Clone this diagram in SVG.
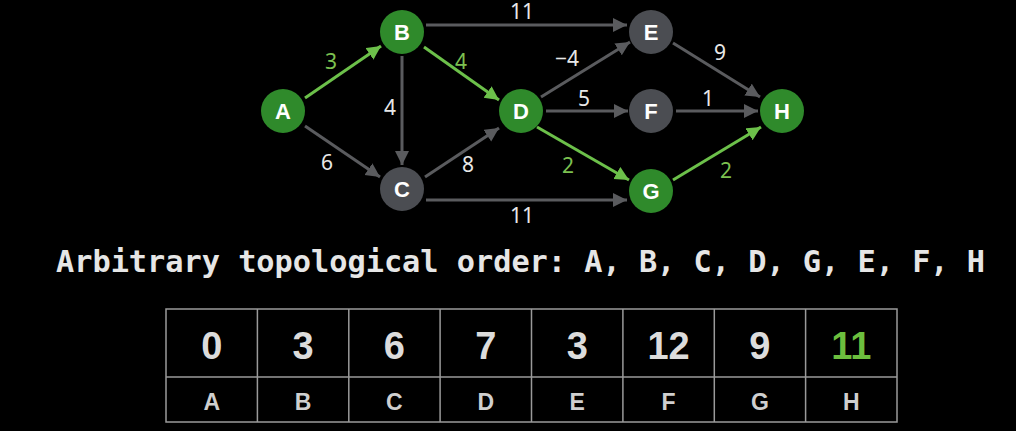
<svg xmlns="http://www.w3.org/2000/svg" width="1016" height="431" viewBox="0 0 1016 431">
<style>
.e{stroke:#5a5b5e;stroke-width:3;fill:none}
.g{stroke:#6cc04a;stroke-width:3;fill:none}
.ng{fill:#2f8a2b}
.nn{fill:#4b4d52}
.nl{font-family:"Liberation Sans",Arial,sans-serif;font-weight:bold;font-size:22px;fill:#fff;text-anchor:middle}
.lw{font-family:"Noto Sans","DejaVu Sans",sans-serif;font-size:21px;fill:#e8e8e8;text-anchor:middle}
.lg{font-family:"Noto Sans","DejaVu Sans",sans-serif;font-size:21px;fill:#7cc050;text-anchor:middle}
.cell{fill:#000;stroke:#9a9a9a;stroke-width:1.5}
.v{font-family:"Liberation Sans",Arial,sans-serif;font-weight:bold;font-size:38px;fill:#dcdcdc;text-anchor:middle}
.k{font-family:"Liberation Sans",Arial,sans-serif;font-weight:bold;font-size:23px;fill:#cfcfcf;text-anchor:middle}
</style>
<defs>
<marker id="ag" markerUnits="userSpaceOnUse" markerWidth="16" markerHeight="16" refX="14" refY="7" orient="auto"><path d="M0,0 L14,7 L0,14 Z" fill="#6cc04a"/></marker>
<marker id="an" markerUnits="userSpaceOnUse" markerWidth="16" markerHeight="16" refX="14" refY="7" orient="auto"><path d="M0,0 L14,7 L0,14 Z" fill="#5a5b5e"/></marker>
</defs>
<rect width="1016" height="431" fill="#000"/>
<g id="connectors">
<line class="g" x1="305" y1="98" x2="381" y2="46" marker-end="url(#ag)"/>
<line class="g" x1="424" y1="47" x2="499" y2="100" marker-end="url(#ag)"/>
<line class="e" x1="402" y1="56" x2="402" y2="165" marker-end="url(#an)"/>
<line class="e" x1="305" y1="126" x2="380" y2="177" marker-end="url(#an)"/>
<line class="e" x1="425" y1="177" x2="499" y2="128" marker-end="url(#an)"/>
<line class="e" x1="426" y1="25" x2="627" y2="25" marker-end="url(#an)"/>
<line class="e" x1="426" y1="200" x2="627" y2="200" marker-end="url(#an)"/>
<line class="e" x1="541" y1="97" x2="630" y2="42" marker-end="url(#an)"/>
<line class="e" x1="546" y1="111" x2="628" y2="111" marker-end="url(#an)"/>
<line class="g" x1="537" y1="127" x2="629" y2="180" marker-end="url(#ag)"/>
<line class="e" x1="673" y1="43" x2="760" y2="97" marker-end="url(#an)"/>
<line class="e" x1="676" y1="111" x2="758" y2="111" marker-end="url(#an)"/>
<line class="g" x1="673" y1="180" x2="761" y2="127" marker-end="url(#ag)"/>
</g>
<g id="edge-labels">
<text class="lg" x="331" y="69">3</text>
<text class="lg" x="461" y="69">4</text>
<text class="lw" x="390" y="115">4</text>
<text class="lw" x="327" y="170">6</text>
<text class="lw" x="468" y="172">8</text>
<text class="lw" x="522" y="19">11</text>
<text class="lw" x="522" y="223">11</text>
<text class="lw" x="567" y="66">−4</text>
<text class="lw" x="584" y="106">5</text>
<text class="lw" x="708" y="106">1</text>
<text class="lw" x="720" y="60">9</text>
<text class="lg" x="568" y="173">2</text>
<text class="lg" x="726" y="178">2</text>
</g>
<g id="node-A"><circle class="ng" cx="283" cy="111" r="22"/><text class="nl" x="283" y="119">A</text></g>
<g id="node-B"><circle class="ng" cx="402" cy="32" r="22"/><text class="nl" x="402" y="40">B</text></g>
<g id="node-C"><circle class="nn" cx="402" cy="189" r="22"/><text class="nl" x="402" y="197">C</text></g>
<g id="node-D"><circle class="ng" cx="521" cy="111" r="22"/><text class="nl" x="521" y="119">D</text></g>
<g id="node-E"><circle class="nn" cx="651" cy="32" r="22"/><text class="nl" x="651" y="40">E</text></g>
<g id="node-F"><circle class="nn" cx="651" cy="111" r="22"/><text class="nl" x="651" y="119">F</text></g>
<g id="node-G"><circle class="ng" cx="651" cy="191" r="22"/><text class="nl" x="651" y="199">G</text></g>
<g id="node-H"><circle class="ng" cx="782" cy="111" r="22"/><text class="nl" x="782" y="119">H</text></g>
<text x="56" y="272" textLength="929" lengthAdjust="spacingAndGlyphs" style="font-family:'DejaVu Sans Mono','Liberation Mono',monospace;font-weight:bold;font-size:30px;fill:#e6e6e6">Arbitrary topological order: A, B, C, D, G, E, F, H</text>
<g id="table">
<rect class="cell" x="166" y="309" width="731" height="113"/>
<line class="cell" x1="166" y1="377" x2="897" y2="377"/>
<line class="cell" x1="257.4" y1="309" x2="257.4" y2="422"/>
<line class="cell" x1="348.8" y1="309" x2="348.8" y2="422"/>
<line class="cell" x1="440.1" y1="309" x2="440.1" y2="422"/>
<line class="cell" x1="531.5" y1="309" x2="531.5" y2="422"/>
<line class="cell" x1="622.9" y1="309" x2="622.9" y2="422"/>
<line class="cell" x1="714.3" y1="309" x2="714.3" y2="422"/>
<line class="cell" x1="805.6" y1="309" x2="805.6" y2="422"/>
<text class="v" x="211.7" y="359">0</text>
<text class="v" x="303.1" y="359">3</text>
<text class="v" x="394.4" y="359">6</text>
<text class="v" x="485.8" y="359">7</text>
<text class="v" x="577.2" y="359">3</text>
<text class="v" x="668.6" y="359">12</text>
<text class="v" x="759.9" y="359">9</text>
<text class="v" x="851.3" y="359" style="fill:#6cbf3e">11</text>
<text class="k" x="211.7" y="410">A</text>
<text class="k" x="303.1" y="410">B</text>
<text class="k" x="394.4" y="410">C</text>
<text class="k" x="485.8" y="410">D</text>
<text class="k" x="577.2" y="410">E</text>
<text class="k" x="668.6" y="410">F</text>
<text class="k" x="759.9" y="410">G</text>
<text class="k" x="851.3" y="410">H</text>
</g>
</svg>
